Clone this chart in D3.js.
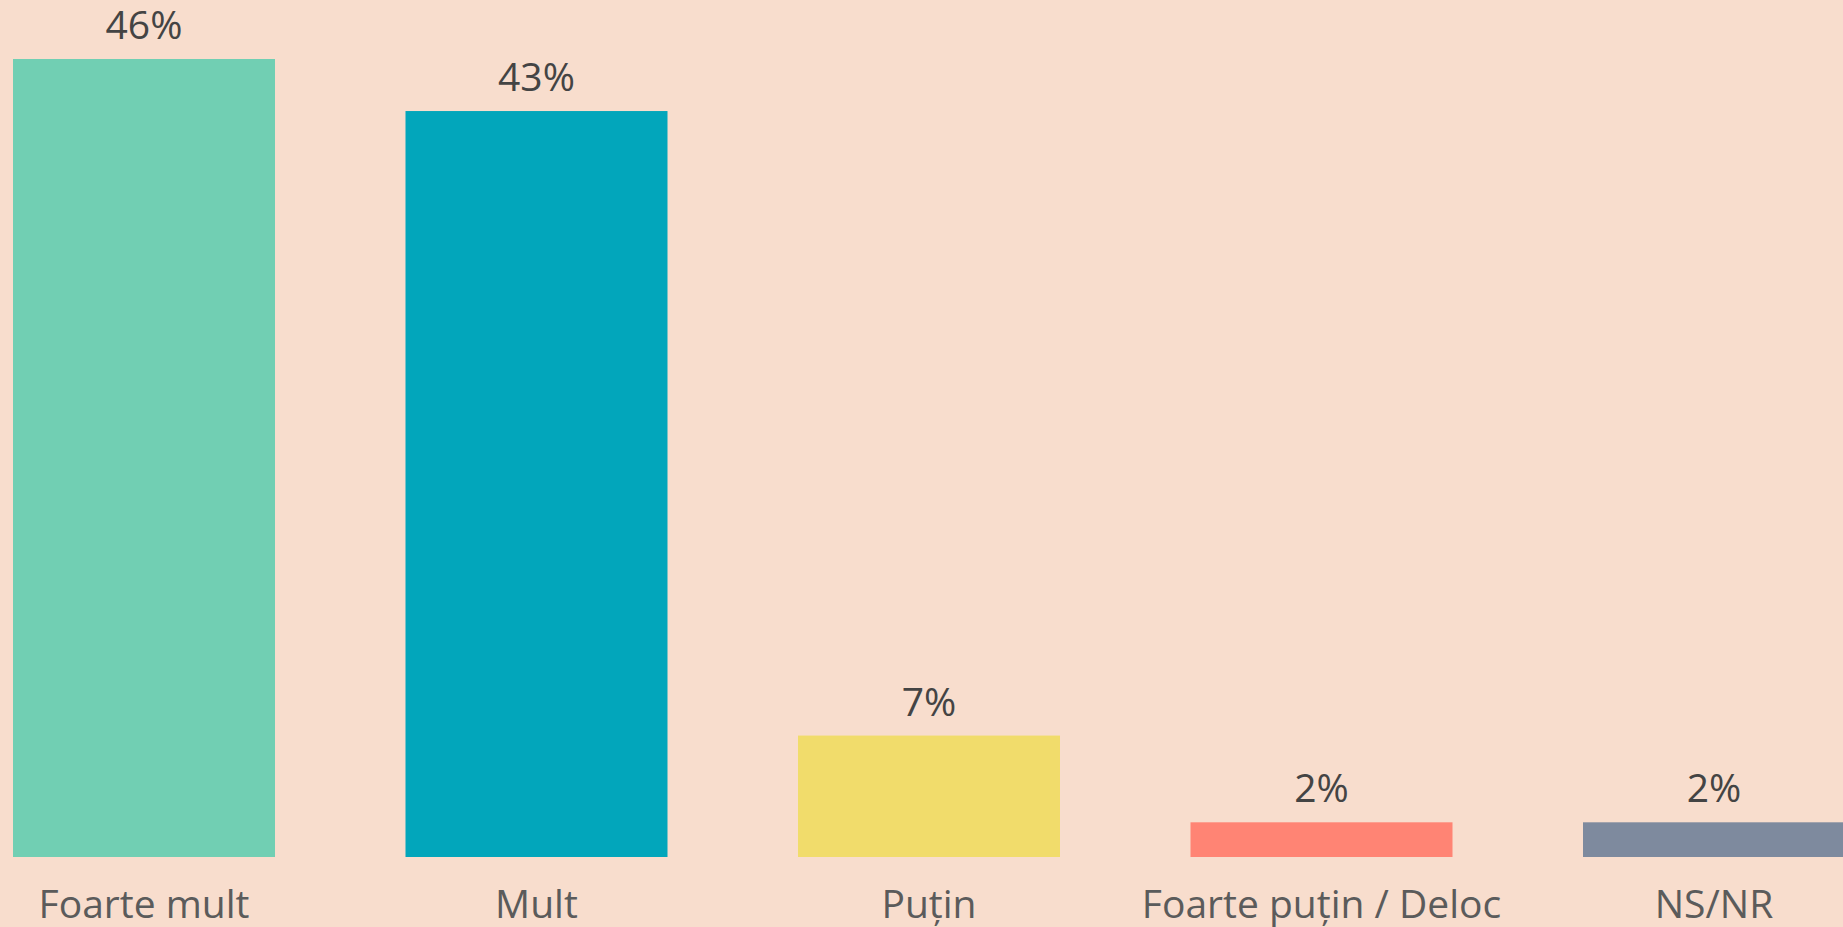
<!DOCTYPE html>
<html>
<head>
<meta charset="utf-8">
<script src="https://cdn.jsdelivr.net/npm/d3@7"></script>
<style>
  html, body { margin: 0; padding: 0; background: #f8ddcd; overflow: hidden; }
  svg { display: block; }
</style>
</head>
<body>
<svg id="chart"></svg>
<script>
const categories = ["Foarte mult", "Mult", "Puțin", "Foarte puțin / Deloc", "NS/NR"]
const values = [46, 43, 7, 2, 2]
const colors = ["#71cfb3", "#02a6bb", "#f1dc6b", "#ff8474", "#7e8a9e"]

const width = 1843, height = 927
const svg = d3.select("#chart").attr("width", width).attr("height", height)

svg.append("rect").attr("width", width).attr("height", height).attr("fill", "#f8ddcd")

const x = d3.scaleBand()
    .domain(categories)
    .range([13, 1845])
    .paddingInner(0.3325)
    .paddingOuter(0)

const y = d3.scaleLinear()
    .domain([0, 46])
    .range([857, 59])

const data = categories.map((c, i) => ({ name: c, value: values[i], color: colors[i] }))

// bars
svg.append("g").selectAll("rect").data(data).enter().append("rect")
    .attr("x", d => x(d.name))
    .attr("y", d => y(d.value))
    .attr("width", x.bandwidth())
    .attr("height", d => y(0) - y(d.value))
    .attr("fill", d => d.color)

// value labels
svg.append("g").selectAll("text").data(data).enter().append("text")
    .attr("x", d => x(d.name) + x.bandwidth() / 2)
    .attr("y", d => y(d.value) - 20)
    .attr("text-anchor", "middle")
    .attr("font-family", "'Open Sans', sans-serif")
    .attr("font-size", 39)
    .attr("fill", "#444444")
    .text(d => d.value + "%")

// category axis
const axis = svg.append("g")
    .attr("transform", "translate(0," + y(0) + ")")
    .call(d3.axisBottom(x).tickSize(0).tickPadding(61))

axis.select(".domain").remove()
axis.selectAll("text")
    .attr("dy", 0)
    .attr("font-family", "'Open Sans', sans-serif")
    .attr("font-size", 39)
    .attr("fill", "#5b5b5b")
</script>
</body>
</html>
